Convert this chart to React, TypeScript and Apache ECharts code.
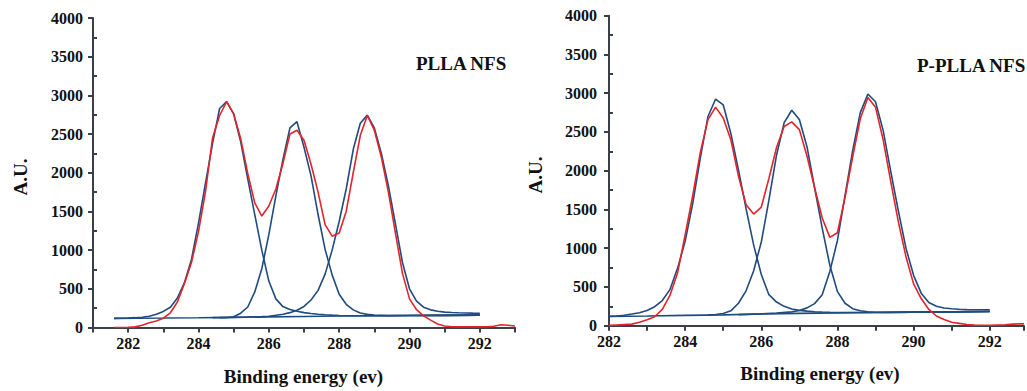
import React, { useEffect, useRef } from "react";
import * as echarts from "echarts";

type P = [number, number][];

// ---------- PLLA NFS (left panel) ----------
const plllaBaseline: P = [[281.6,118],[283,122],[284,126],[285,131],[286,137],[287,143],[288,148],[289,152],[290,155],[291,157],[292,160]];
const plllaPeak1: P = [[281.6,118],[281.8,120],[282.0,123],[282.2,127],[282.4,133],[282.6,145],[282.8,172],[283.0,208],[283.2,262],[283.4,380],[283.6,580],[283.8,880],[284.0,1350],[284.2,1870],[284.4,2380],[284.6,2830],[284.8,2920],[285.0,2760],[285.2,2400],[285.4,1920],[285.6,1460],[285.8,1000],[286.0,600],[286.2,370],[286.4,270],[286.6,232],[286.8,210],[287.0,192],[287.2,180],[287.4,172],[287.6,165],[287.8,160],[288.0,156],[288.4,152],[289,152],[290,155],[291,157],[292,160]];
const plllaPeak2: P = [[284.4,128],[284.8,130],[285.0,138],[285.2,185],[285.4,265],[285.6,460],[285.8,760],[286.0,1200],[286.2,1700],[286.4,2170],[286.6,2580],[286.8,2660],[287.0,2330],[287.2,1960],[287.4,1460],[287.6,1010],[287.8,680],[288.0,430],[288.2,300],[288.4,228],[288.6,188],[288.8,170],[289.0,160],[289.4,154],[290,155],[291,157],[292,160]];
const plllaPeak3: P = [[284.6,128],[285.4,135],[285.8,141],[286.0,146],[286.2,158],[286.4,172],[286.6,192],[286.8,222],[287.0,272],[287.2,355],[287.4,480],[287.6,690],[287.8,1000],[288.0,1370],[288.2,1790],[288.4,2300],[288.6,2640],[288.8,2745],[289.0,2580],[289.2,2250],[289.4,1830],[289.6,1340],[289.8,840],[290.0,500],[290.2,340],[290.4,262],[290.6,228],[290.8,210],[291.0,199],[291.2,193],[291.4,190],[291.6,188],[291.8,186],[292.0,185]];
const plllaMeasured: P = [[281.6,0],[281.8,0],[282.0,2],[282.2,8],[282.4,30],[282.6,62],[282.8,85],[283.0,120],[283.2,190],[283.4,330],[283.6,570],[283.8,840],[284.0,1240],[284.2,1760],[284.4,2450],[284.6,2740],[284.8,2920],[285.0,2760],[285.2,2440],[285.4,1990],[285.6,1610],[285.8,1440],[286.0,1570],[286.2,1790],[286.4,2120],[286.6,2500],[286.8,2550],[287.0,2420],[287.2,2110],[287.4,1750],[287.6,1330],[287.8,1180],[288.0,1220],[288.2,1500],[288.4,2000],[288.6,2480],[288.8,2740],[289.0,2550],[289.2,2200],[289.4,1750],[289.6,1220],[289.8,700],[290.0,370],[290.2,230],[290.4,150],[290.6,95],[290.8,45],[291.0,20],[291.2,10],[291.4,8],[291.6,8],[291.8,10],[292.0,8],[292.2,10],[292.4,15],[292.6,35],[292.8,30],[293.0,20]];

// ---------- P-PLLA NFS (right panel) ----------
const pplllaBaseline: P = [[282,120],[283,126],[284,133],[285,140],[286,150],[287,159],[288,166],[289,171],[290,175],[291,179],[292,183]];
const pplllaPeak1: P = [[282.0,120],[282.2,125],[282.4,135],[282.6,150],[282.8,168],[283.0,195],[283.2,245],[283.4,325],[283.6,465],[283.8,740],[284.0,1090],[284.2,1580],[284.4,2170],[284.6,2700],[284.8,2925],[285.0,2850],[285.2,2480],[285.4,2010],[285.6,1510],[285.8,1040],[286.0,660],[286.2,400],[286.4,305],[286.6,250],[286.8,215],[287.0,198],[287.2,188],[287.4,180],[287.6,176],[287.8,173],[288.0,171],[288.5,170],[289,171],[290,175],[291,179],[292,183]];
const pplllaPeak2: P = [[284.6,138],[284.8,145],[285.0,158],[285.2,192],[285.4,290],[285.6,450],[285.8,710],[286.0,1080],[286.2,1620],[286.4,2200],[286.6,2620],[286.8,2780],[287.0,2660],[287.2,2310],[287.4,1780],[287.6,1260],[287.8,780],[288.0,440],[288.2,290],[288.4,220],[288.6,192],[288.8,180],[289.0,174],[289.4,172],[290,175],[291,179],[292,183]];
const pplllaPeak3: P = [[285.4,143],[286.0,153],[286.4,162],[286.8,178],[287.0,196],[287.2,230],[287.4,285],[287.6,400],[287.8,700],[288.0,1100],[288.2,1680],[288.4,2260],[288.6,2750],[288.8,2990],[289.0,2890],[289.2,2520],[289.4,1990],[289.6,1480],[289.8,1000],[290.0,650],[290.2,420],[290.4,300],[290.6,250],[290.8,228],[291.0,218],[291.2,212],[291.4,208],[291.6,206],[291.8,205],[292.0,204]];
const pplllaMeasured: P = [[282.0,5],[282.2,10],[282.4,15],[282.6,20],[282.8,45],[283.0,78],[283.2,116],[283.4,210],[283.6,390],[283.8,680],[284.0,1170],[284.2,1680],[284.4,2240],[284.6,2660],[284.8,2820],[285.0,2680],[285.2,2400],[285.4,1930],[285.6,1560],[285.8,1440],[286.0,1530],[286.2,1900],[286.4,2300],[286.6,2570],[286.8,2630],[287.0,2530],[287.2,2190],[287.4,1780],[287.6,1390],[287.8,1140],[288.0,1200],[288.2,1660],[288.4,2180],[288.6,2670],[288.8,2945],[289.0,2820],[289.2,2400],[289.4,1860],[289.6,1340],[289.8,890],[290.0,540],[290.2,350],[290.4,210],[290.6,125],[290.8,80],[291.0,45],[291.2,30],[291.4,15],[291.6,8],[291.8,5],[292.0,5],[292.2,10],[292.4,12],[292.6,20],[292.8,25],[292.9,23]];

const panelTitles = ["PLLA NFS", "P-PLLA NFS"];
const xAxisTitle = "Binding energy (ev)";
const yAxisTitle = "A.U.";

const BLUE = "#1f4b7e";
const RED = "#e5232b";
const AXIS = "#3b3f47";
const FONT = '"Liberation Serif", "Times New Roman", serif';

function xAxisFor(gridIndex: number, min: number, max: number) {
  return {
    type: "value",
    gridIndex,
    min,
    max,
    interval: 1,
    axisLine: { show: true, lineStyle: { color: AXIS, width: 2 } },
    axisTick: { show: true, length: 5, lineStyle: { color: AXIS, width: 2 } },
    axisLabel: {
      color: "#111",
      fontFamily: FONT,
      fontWeight: "bold",
      fontSize: 16,
      margin: 8,
      formatter: (v: number) => (Math.abs(v % 2) < 1e-6 ? String(v) : ""),
    },
    splitLine: { show: false },
  };
}

function yMain(gridIndex: number, margin: number) {
  return {
    type: "value",
    gridIndex,
    min: 0,
    max: 4000,
    interval: 500,
    axisLine: { show: true, lineStyle: { color: AXIS, width: 2 } },
    axisTick: { show: true, length: 5, lineStyle: { color: AXIS, width: 2 } },
    axisLabel: {
      color: "#111",
      fontFamily: FONT,
      fontWeight: "bold",
      fontSize: 16,
      margin,
      formatter: (v: number) => String(v),
    },
    splitLine: { show: false },
  };
}

function yMinor(gridIndex: number) {
  return {
    type: "value",
    gridIndex,
    min: 0,
    max: 4000,
    interval: 500,
    position: "left",
    axisLine: { show: false },
    axisTick: { show: false, inside: true },
    minorTick: { show: true, splitNumber: 2, length: 4, lineStyle: { color: AXIS, width: 2 } },
    axisLabel: { show: false },
    splitLine: { show: false },
  };
}

function line(data: P, color: string, xi: number, yi: number, z = 2) {
  return {
    type: "line",
    data,
    xAxisIndex: xi,
    yAxisIndex: yi,
    showSymbol: false,
    symbol: "none",
    z,
    lineStyle: { color, width: 1.6 },
    emphasis: { disabled: true },
  };
}

function title(text: string, x: number, y: number, align = "center", rotation = 0) {
  return {
    type: "text",
    x,
    y,
    rotation,
    style: {
      text,
      fill: "#111",
      font: `bold 19px ${FONT}`,
      textAlign: align,
      textVerticalAlign: "middle",
    },
  };
}

export default function App() {
  const ref = useRef<HTMLDivElement>(null);
  useEffect(() => {
    if (!ref.current) return;
    const chart = echarts.init(ref.current, undefined, { renderer: "svg" });
    chart.setOption({
      animation: false,
      grid: [
        { left: 93, top: 18, width: 422, height: 309.5 },
        { left: 609, top: 15.7, width: 418, height: 310 },
      ],
      xAxis: [xAxisFor(0, 281, 293), xAxisFor(1, 282, 292.9)],
      yAxis: [yMain(0, 10), yMinor(0), yMain(1, 12), yMinor(1)],
      series: [
        line(plllaBaseline, BLUE, 0, 0),
        line(plllaPeak1, BLUE, 0, 0),
        line(plllaPeak2, BLUE, 0, 0),
        line(plllaPeak3, BLUE, 0, 0),
        line(plllaMeasured, RED, 0, 0, 3),
        line(pplllaBaseline, BLUE, 1, 2),
        line(pplllaPeak1, BLUE, 1, 2),
        line(pplllaPeak2, BLUE, 1, 2),
        line(pplllaPeak3, BLUE, 1, 2),
        line(pplllaMeasured, RED, 1, 2, 3),
      ],
      graphic: [
        title(yAxisTitle, 20, 177, "center", Math.PI / 2),
        title(yAxisTitle, 535.5, 175, "center", Math.PI / 2),
        title(xAxisTitle, 303.5, 376),
        title(xAxisTitle, 820, 373),
        title(panelTitles[0], 416, 63, "left"),
        title(panelTitles[1], 917, 65, "left"),
      ],
    });
    return () => chart.dispose();
  }, []);
  return <div ref={ref} style={{ position: "absolute", left: 0, top: 0, width: 1027, height: 391 }} />;
}
